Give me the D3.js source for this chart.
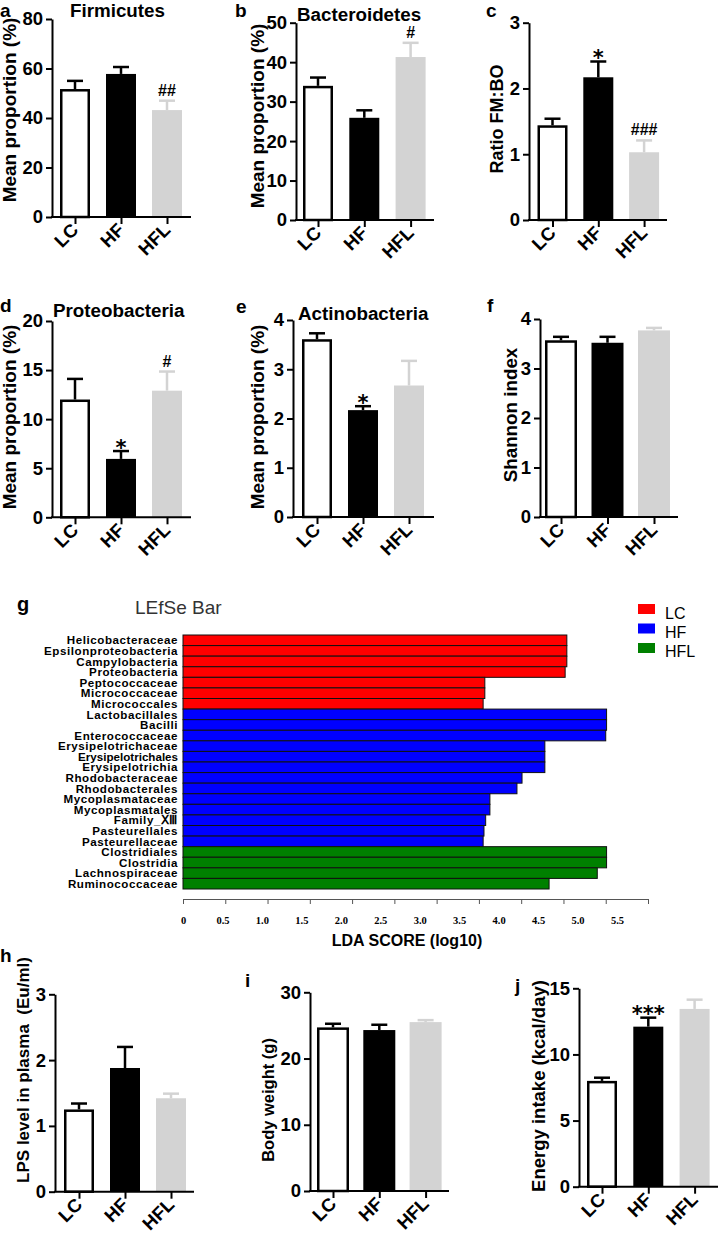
<!DOCTYPE html>
<html><head><meta charset="utf-8">
<script src="https://cdn.jsdelivr.net/npm/d3@7"></script>
<style>
body{margin:0;background:#fff;}
svg{display:block;font-family:"Liberation Sans",Arial,sans-serif;}
</style></head><body>
<svg id="chart" width="718" height="1239"></svg>
<script>
// ---------------- DATA ----------------
const groups = ["LC", "HF", "HFL"];

const firmicutesMean = [51.7, 57.8, 43.2];
const firmicutesSem  = [3.3, 2.8, 3.8];
const firmicutesSig  = ["", "", "##"];

const bacteroidetesMean = [34.0, 25.9, 41.3];
const bacteroidetesSem  = [2.1, 1.9, 3.6];
const bacteroidetesSig  = ["", "", "#"];

const ratioMean = [1.44, 2.17, 1.03];
const ratioSem  = [0.10, 0.24, 0.18];
const ratioSig  = ["", "*", "###"];

const proteoMean = [12.0, 5.95, 12.9];
const proteoSem  = [2.1, 0.8, 1.95];
const proteoSig  = ["", "*", "#"];

const actinoMean = [3.61, 2.17, 2.67];
const actinoSem  = [0.12, 0.08, 0.50];
const actinoSig  = ["", "*", ""];

const shannonMean = [3.57, 3.52, 3.77];
const shannonSem  = [0.07, 0.12, 0.05];
const shannonSig  = ["", "", ""];

const lpsMean = [1.25, 1.88, 1.42];
const lpsSem  = [0.09, 0.32, 0.07];
const lpsSig  = ["", "", ""];

const weightMean = [24.7, 24.3, 25.5];
const weightSem  = [0.55, 0.8, 0.3];
const weightSig  = ["", "", ""];

const energyMean = [8.0, 12.1, 13.44];
const energySem  = [0.24, 0.68, 0.7];
const energySig  = ["", "***", ""];

// LEfSe
const ldaTaxa = ["Helicobacteraceae","Epsilonproteobacteria","Campylobacteria","Proteobacteria","Peptococcaceae","Micrococcaceae","Micrococcales",
  "Lactobacillales","Bacilli","Enterococcaceae","Erysipelotrichaceae","Erysipelotrichales","Erysipelotrichia","Rhodobacteraceae","Rhodobacterales",
  "Mycoplasmataceae","Mycoplasmatales","Family_ⅩⅢ","Pasteurellales","Pasteurellaceae",
  "Clostridiales","Clostridia","Lachnospiraceae","Ruminococcaceae"];
const ldaScores = [4.54,4.54,4.54,4.52,3.57,3.57,3.55,
  5.01,5.01,5.00,4.28,4.28,4.28,4.01,3.95,
  3.63,3.63,3.58,3.56,3.55,
  5.01,5.01,4.90,4.33];
const ldaGroup = ["LC","LC","LC","LC","LC","LC","LC",
  "HF","HF","HF","HF","HF","HF","HF","HF","HF","HF","HF","HF","HF",
  "HFL","HFL","HFL","HFL"];
const ldaTicks = [0,0.5,1.0,1.5,2.0,2.5,3.0,3.5,4.0,4.5,5.0,5.5];
const lefseColors = {LC:"#ff0000", HF:"#0000ff", HFL:"#008000"};

// ---------------- LAYOUT ----------------
const svg = d3.select("#chart");
const barFill = {LC:"#ffffff", HF:"#000000", HFL:"#d3d3d3"};
const errColor = {LC:"#000000", HF:"#000000", HFL:"#d3d3d3"};

const panels = [
 {L:"a", lx:0, ly:17, title:"Firmicutes", tx:70, ty:17, yt:"Mean proportion (%)", ytx:16, yty:110, ytfs:19,
  mean:firmicutesMean, sem:firmicutesSem, sig:firmicutesSig, ymax:80, tstep:20,
  axisX:52, y0:217, yTop:19, c0:75, step:46, bw:30, xEnd:191},
 {L:"b", lx:235, ly:17, title:"Bacteroidetes", tx:297, ty:21, yt:"Mean proportion (%)", ytx:264, yty:116, ytfs:19,
  mean:bacteroidetesMean, sem:bacteroidetesSem, sig:bacteroidetesSig, ymax:50, tstep:10,
  axisX:296, y0:220, yTop:22.7, c0:318, step:46.3, bw:30, xEnd:434},
 {L:"c", lx:486, ly:17, title:"", yt:"Ratio FM:BO", ytx:503, yty:119, ytfs:18,
  mean:ratioMean, sem:ratioSem, sig:ratioSig, ymax:3, tstep:1,
  axisX:529, y0:220, yTop:22.7, c0:552.5, step:45.8, bw:30, xEnd:667},
 {L:"d", lx:0, ly:312, title:"Proteobacteria", tx:53, ty:317, yt:"Mean proportion (%)", ytx:16, yty:417, ytfs:19,
  mean:proteoMean, sem:proteoSem, sig:proteoSig, ymax:20, tstep:5,
  axisX:52, y0:517.3, yTop:321, c0:75, step:46, bw:30, xEnd:191},
 {L:"e", lx:236, ly:313, title:"Actinobacteria", tx:298, ty:320, yt:"Mean proportion (%)", ytx:264, yty:417, ytfs:19,
  mean:actinoMean, sem:actinoSem, sig:actinoSig, ymax:4, tstep:1,
  axisX:293, y0:517, yTop:320, c0:317, step:46, bw:30, xEnd:434},
 {L:"f", lx:487, ly:312, title:"", yt:"Shannon index", ytx:517, yty:415, ytfs:18.8,
  mean:shannonMean, sem:shannonSem, sig:shannonSig, ymax:4, tstep:1,
  axisX:540, y0:517, yTop:319, c0:561, step:46.5, bw:32, xEnd:678},
 {L:"h", lx:0, ly:962, title:"", yt:"LPS level in plasma  (Eu/ml)", ytx:29, yty:1070, ytfs:17,
  mean:lpsMean, sem:lpsSem, sig:lpsSig, ymax:3, tstep:1,
  axisX:55, y0:1191.7, yTop:994.3, c0:79, step:46, bw:30, xEnd:194},
 {L:"i", lx:245, ly:987, title:"", yt:"Body weight (g)", ytx:274, yty:1100, ytfs:16.5,
  mean:weightMean, sem:weightSem, sig:weightSig, ymax:30, tstep:10,
  axisX:310, y0:1191, yTop:992.3, c0:333, step:46.3, bw:32, xEnd:449},
 {L:"j", lx:515, ly:992, title:"", yt:"Energy intake (kcal/day)", ytx:545, yty:1086, ytfs:18.5,
  mean:energyMean, sem:energySem, sig:energySig, ymax:15, tstep:5,
  axisX:579, y0:1186.7, yTop:988.3, c0:602, step:46.3, bw:30, xEnd:718}
];

function barPanel(p) {
  const g = svg.append("g");
  const y = d3.scaleLinear().domain([0, p.ymax]).range([p.y0, p.yTop]);
  const x = d3.scalePoint().domain(groups).range([p.c0, p.c0 + 2 * p.step]);

  groups.forEach((k, i) => {
    const cx = x(k), v = p.mean[i], top = y(v);
    if (k === "LC") {
      g.append("rect").attr("x", cx - p.bw/2 + 1.25).attr("y", top + 1.25)
        .attr("width", p.bw - 2.5).attr("height", p.y0 - top - 1.25)
        .attr("fill", "#fff").attr("stroke", "#000").attr("stroke-width", 2.5);
    } else {
      g.append("rect").attr("x", cx - p.bw/2).attr("y", top)
        .attr("width", p.bw).attr("height", p.y0 - top).attr("fill", barFill[k]);
    }
    const et = y(v + p.sem[i]);
    g.append("line").attr("x1", cx).attr("x2", cx).attr("y1", top).attr("y2", et)
      .attr("stroke", errColor[k]).attr("stroke-width", 2.5);
    g.append("line").attr("x1", cx - 8).attr("x2", cx + 8).attr("y1", et).attr("y2", et)
      .attr("stroke", errColor[k]).attr("stroke-width", 2.5);
    const s = p.sig[i];
    if (s) {
      if (s[0] === "*") {
        g.append("text").attr("x", cx).attr("y", et + 3.5).attr("text-anchor", "middle")
          .style("font-family", "'DejaVu Sans',sans-serif").style("font-weight", "bold")
          .style("font-size", "21px").text(s);
      } else {
        g.append("text").attr("x", cx).attr("y", et - 5).attr("text-anchor", "middle")
          .style("font-weight", "bold").style("font-size", "16px").text(s);
      }
    }
  });

  const yAxis = d3.axisLeft(y).tickValues(d3.range(0, p.ymax + 1e-9, p.tstep))
    .tickSize(6).tickSizeOuter(0).tickPadding(3).tickFormat(d3.format("~g"));
  const ga = g.append("g").attr("transform", `translate(${p.axisX},0)`).call(yAxis);
  ga.select(".domain").attr("stroke", "#000").attr("stroke-width", 2);
  ga.selectAll(".tick line").attr("stroke", "#000").attr("stroke-width", 2);
  ga.selectAll(".tick text").attr("fill", "#000").style("font-size", "18.5px")
    .style("font-weight", "bold").style("font-family", "'Liberation Sans',Arial,sans-serif");

  const xAxis = d3.axisBottom(x).tickSize(7).tickSizeOuter(0);
  const gx = g.append("g").attr("transform", `translate(0,${p.y0})`).call(xAxis);
  gx.select(".domain").remove();
  gx.append("line").attr("x1", p.axisX - 1).attr("x2", p.xEnd).attr("y1", 0).attr("y2", 0)
    .attr("stroke", "#000").attr("stroke-width", 2);
  gx.selectAll(".tick line").attr("stroke", "#000").attr("stroke-width", 2);
  gx.selectAll(".tick text").attr("x", 0).attr("y", 0).attr("dy", 0)
    .attr("transform", "translate(4,14) rotate(-45)").attr("text-anchor", "end")
    .attr("fill", "#000").style("font-size", "18.5px").style("font-weight", "bold")
    .style("font-family", "'Liberation Sans',Arial,sans-serif");

  g.append("text").attr("transform", `translate(${p.ytx},${p.yty}) rotate(-90)`)
    .attr("text-anchor", "middle").style("font-weight", "bold").style("font-size", p.ytfs + "px")
    .style("white-space", "pre").text(p.yt);

  if (p.title) {
    g.append("text").attr("x", p.tx).attr("y", p.ty).style("font-weight", "bold")
      .style("font-size", "18.8px").text(p.title);
  }
  g.append("text").attr("x", p.lx).attr("y", p.ly).style("font-weight", "bold")
    .style("font-size", "19px").text(p.L);
}
panels.forEach(barPanel);

// ---------------- LEfSe panel (g) ----------------
(function () {
  const g = svg.append("g");
  const x = d3.scaleLinear().domain([0, 5.5]).range([183, 648]);
  const xLbl = d3.scaleLinear().domain([0, 5.5]).range([183, 617]);
  const y = d3.scaleBand().domain(ldaTaxa).range([635, 889]).padding(0);

  g.selectAll("rect.lda").data(ldaTaxa).enter().append("rect")
    .attr("x", x(0)).attr("y", d => y(d))
    .attr("width", (d, i) => x(ldaScores[i]) - x(0)).attr("height", y.bandwidth())
    .attr("fill", (d, i) => lefseColors[ldaGroup[i]])
    .attr("stroke", "#111").attr("stroke-width", 1);

  g.selectAll("text.lda").data(ldaTaxa).enter().append("text")
    .attr("x", 178).attr("y", d => y(d) + y.bandwidth() / 2).attr("dy", "0.36em")
    .attr("text-anchor", "end").style("font-weight", "bold").style("font-size", "11.6px")
    .style("letter-spacing", d => d === "Erysipelotrichales" ? "0px" : "0.55px")
    .style("font-family", d => d === "Erysipelotrichales" ? "'Liberation Sans Narrow','Liberation Sans',sans-serif" : "'Liberation Sans',Arial,sans-serif")
    .text(d => d);

  const ax = d3.axisBottom(x).tickValues(ldaTicks).tickSize(5).tickSizeOuter(0).tickFormat("");
  const ga = g.append("g").attr("transform", "translate(0,899)").call(ax);
  ga.select(".domain").attr("stroke", "#555").attr("stroke-width", 1);
  ga.selectAll(".tick line").attr("stroke", "#555").attr("stroke-width", 1);

  const axl = d3.axisBottom(xLbl).tickValues(ldaTicks).tickSize(0)
    .tickFormat(d => d === 0 ? "0" : d3.format(".1f")(d));
  const gl = g.append("g").attr("transform", "translate(0,899)").call(axl);
  gl.select(".domain").remove();
  gl.selectAll(".tick text").attr("y", 25).attr("dy", 0).attr("fill", "#000")
    .style("font-family", "'Liberation Serif','Times New Roman',serif").style("font-weight", "bold")
    .style("font-size", "10.5px");

  g.append("text").attr("x", 407).attr("y", 946).attr("text-anchor", "middle")
    .style("font-weight", "bold").style("font-size", "16px").text("LDA SCORE (log10)");

  g.append("text").attr("x", 135).attr("y", 614).style("font-size", "19px").attr("fill", "#333")
    .text("LEfSe Bar");
  g.append("text").attr("x", 17).attr("y", 611).style("font-size", "20px").style("font-weight", "bold").text("g");

  const lg = g.append("g");
  groups.forEach((k, i) => {
    lg.append("rect").attr("x", 638).attr("y", 604 + i * 19.5).attr("width", 17).attr("height", 10)
      .attr("fill", lefseColors[k]);
    lg.append("text").attr("x", 665).attr("y", 618.5 + i * 19).style("font-size", "16px").text(k);
  });
})();
</script>
</body></html>
